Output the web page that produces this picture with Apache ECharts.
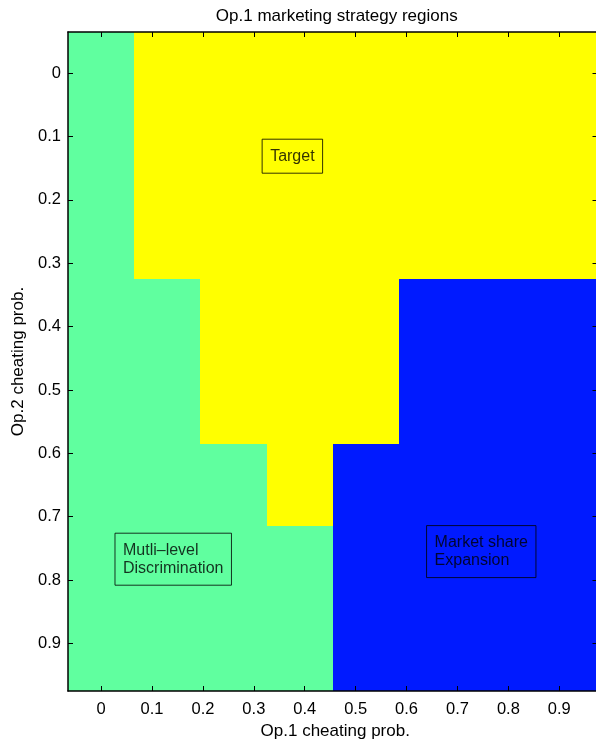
<!DOCTYPE html>
<html>
<head>
<meta charset="utf-8">
<title>Op.1 marketing strategy regions</title>
<script src="https://cdn.jsdelivr.net/npm/echarts@6/dist/echarts.min.js"></script>
<style>
  html, body { margin: 0; padding: 0; background: #ffffff; }
  #chart { width: 596px; height: 741px; }
</style>
</head>
<body>
<div id="chart"></div>
<script>
// Grid of cheating probabilities (cell centres) for both operators
const xValues = [0, 0.13, 0.26, 0.39, 0.52, 0.65, 0.78, 0.91];
const yValues = [0, 0.13, 0.26, 0.39, 0.52, 0.65, 0.78, 0.91];

// Strategy region per cell: rows follow yValues, columns follow xValues
// 1 = multi-level discrimination, 2 = target, 3 = market share expansion
const regionGrid = [
  [1, 2, 2, 2, 2, 2, 2, 2],
  [1, 2, 2, 2, 2, 2, 2, 2],
  [1, 2, 2, 2, 2, 2, 2, 2],
  [1, 1, 2, 2, 2, 3, 3, 3],
  [1, 1, 2, 2, 2, 3, 3, 3],
  [1, 1, 1, 2, 3, 3, 3, 3],
  [1, 1, 1, 1, 3, 3, 3, 3],
  [1, 1, 1, 1, 3, 3, 3, 3]
];

// Region labels and where their text boxes sit (data coordinates)
const regionNames = ['Mutli\u2013level\nDiscrimination', 'Target', 'Market share\nExpansion'];
const labelX = [0.043, 0.332, 0.655];
const labelY = [0.767, 0.131, 0.755];

// Tick labels on both axes
const tickValues = [0, 0.1, 0.2, 0.3, 0.4, 0.5, 0.6, 0.7, 0.8, 0.9];

const titleText = 'Op.1 marketing strategy regions';
const xName = 'Op.1 cheating prob.';
const yName = 'Op.2 cheating prob.';

const regionColors = ['#60FF9F', '#FFFF00', '#001AFF'];
const FONT = '"Liberation Sans", Arial, Helvetica, sans-serif';

const xStep = xValues[1] - xValues[0];
const yStep = yValues[1] - yValues[0];
const xMin = xValues[0] - xStep / 2, xMax = xValues[xValues.length - 1] + xStep / 2;
const yMin = yValues[0] - yStep / 2, yMax = yValues[yValues.length - 1] + yStep / 2;

const cells = [];
regionGrid.forEach((row, i) => {
  row.forEach((code, j) => {
    cells.push([xValues[j], yValues[i], code]);
  });
});

const labels = regionNames.map((name, k) => ({ value: [labelX[k], labelY[k]], name: name }));

const chart = echarts.init(document.getElementById('chart'), null, { renderer: 'canvas' });

const lineStyle = { color: '#000000', width: 1.5 };
const tickStyle = { show: true, inside: true, length: 5, lineStyle: { color: '#000000', width: 1 } };

chart.setOption({
  animation: false,
  backgroundColor: '#ffffff',
  textStyle: { fontFamily: FONT },
  grid: { left: 68, top: 32, width: 529.5, height: 659, containLabel: false, outerBoundsMode: 'none' },
  xAxis: [
    {
      type: 'value', position: 'bottom', min: xMin, max: xMax, z: 5,
      splitLine: { show: false },
      axisLine: { show: true, onZero: false, lineStyle: lineStyle },
      axisTick: Object.assign({ customValues: tickValues }, tickStyle),
      axisLabel: { customValues: tickValues, color: '#000000', fontSize: 16.5, margin: 10, fontFamily: FONT },
      name: xName, nameLocation: 'middle', nameGap: 32,
      nameTextStyle: { color: '#000000', fontSize: 17, fontFamily: FONT, padding: [0, 0, 0, 5] }
    },
    {
      type: 'value', position: 'top', min: xMin, max: xMax, z: 5,
      splitLine: { show: false },
      axisLine: { show: true, onZero: false, lineStyle: lineStyle },
      axisTick: Object.assign({ customValues: tickValues }, tickStyle),
      axisLabel: { show: false },
      name: titleText, nameLocation: 'middle', nameGap: 7,
      nameTextStyle: { color: '#000000', fontSize: 17, fontFamily: FONT, padding: [0, 0, 0, 8] }
    }
  ],
  yAxis: [
    {
      type: 'value', position: 'left', inverse: true, min: yMin, max: yMax, z: 5,
      splitLine: { show: false },
      axisLine: { show: true, onZero: false, lineStyle: lineStyle },
      axisTick: Object.assign({ customValues: tickValues }, tickStyle),
      axisLabel: { customValues: tickValues, color: '#000000', fontSize: 16.5, margin: 7, fontFamily: FONT },
      name: yName, nameLocation: 'middle', nameGap: 41, nameRotate: 90,
      nameTextStyle: { color: '#000000', fontSize: 17, fontFamily: FONT }
    },
    {
      type: 'value', position: 'right', inverse: true, min: yMin, max: yMax, z: 5,
      splitLine: { show: false },
      axisLine: { show: true, onZero: false, lineStyle: lineStyle },
      axisTick: Object.assign({ customValues: tickValues }, tickStyle),
      axisLabel: { show: false }
    }
  ],
  series: [
    {
      type: 'custom',
      xAxisIndex: 0, yAxisIndex: 0,
      clip: true,
      silent: true,
      data: cells,
      renderItem: function (params, api) {
        const cx = api.value(0), cy = api.value(1);
        const p0 = api.coord([cx - xStep / 2, cy - yStep / 2]);
        const p1 = api.coord([cx + xStep / 2, cy + yStep / 2]);
        const x0 = Math.round(Math.min(p0[0], p1[0])), x1 = Math.round(Math.max(p0[0], p1[0]));
        const y0 = Math.round(Math.min(p0[1], p1[1])), y1 = Math.round(Math.max(p0[1], p1[1]));
        return {
          type: 'rect',
          shape: { x: x0, y: y0, width: x1 - x0, height: y1 - y0 },
          style: { fill: regionColors[api.value(2) - 1] }
        };
      }
    },
    {
      type: 'scatter',
      xAxisIndex: 0, yAxisIndex: 0,
      symbolSize: 0,
      silent: true,
      z: 10,
      data: labels,
      label: {
        show: true,
        position: 'right',
        distance: 0,
        offset: [-8, 0],
        formatter: function (p) { return p.name; },
        color: '#000000',
        fontSize: 16,
        fontFamily: FONT,
        lineHeight: 18,
        align: 'left',
        borderColor: '#000000',
        borderWidth: 1,
        padding: [8, 8, 8, 8]
      }
    }
  ]
});
</script>
</body>
</html>
